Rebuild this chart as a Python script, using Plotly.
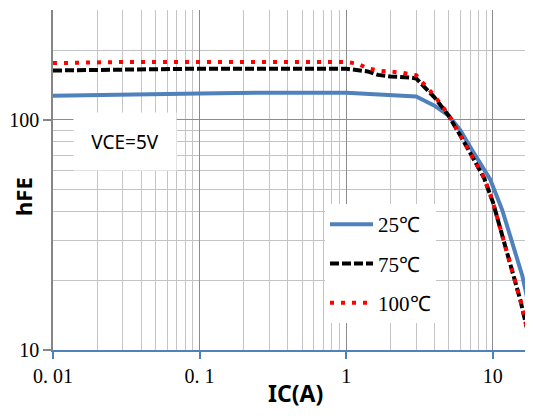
import plotly.graph_objects as go
import math

# ---- data ----
ic_25 = [0.01, 0.03, 0.1, 0.3, 1, 3, 4, 5, 6, 7.2, 9.6, 11.6, 13.6, 15.9, 20]
hfe_25 = [127, 129, 130, 131, 131, 126, 115, 104, 90, 74, 55, 40.5, 29, 21, 10.8]

ic_75 = [0.01, 0.03, 0.1, 1, 1.15, 1.4, 1.65, 2, 2.7, 3, 4, 5, 6.3, 7.3, 8.7, 10, 11.3, 13.2, 15.4, 18.5]
hfe_75 = [163.5, 165.5, 166.5, 166.5, 165, 162, 156.5, 154, 152.5, 151, 125, 104, 81, 69, 56, 44, 33, 23.7, 16.5, 10]

ic_100 = [0.01, 0.03, 0.1, 1, 1.2, 1.4, 1.7, 2, 2.4, 2.8, 3, 4, 5, 6.3, 7.3, 8.7, 10, 11.3, 13.2, 15.4, 18.5]
hfe_100 = [176, 178, 178, 178, 175, 167, 163, 162, 160, 157, 156, 127, 105, 81, 69, 56, 44, 33, 23.7, 16.5, 10]

series_names = ["25℃", "75℃", "100℃"]

x_major = [0.01, 0.1, 1, 10]
x_major_text = ["0. 01", "0. 1", "1", "10"]
x_minor = [m * d for d in [0.01, 0.1, 1, 10] for m in range(2, 10) if m * d < 22]
y_major = [10, 100]
y_major_text = ["10", "100"]
y_minor = [20, 30, 40, 50, 60, 70, 80, 90, 200, 300]

BLUE = "#4F81BD"
GRID_MINOR = "#c4c4c4"
GRID_MAJOR = "#8c8c8c"
SERIF = "Liberation Serif"
SANS = "Noto Sans"

# page body has an 8px margin: lay the figure out in screen pixels minus that offset,
# and keep the page from overflowing the 533x416 window
OFF = 8
W, H = 533 - 2 * OFF, 416 - 2 * OFF
L = 53 - OFF          # plot left (screen x 53)
T = 10 - OFF          # plot top (screen y 10)
BOT = 350 - OFF       # plot bottom (screen y 350)
B = H - BOT
pw, ph = W - L, BOT - T
DEC = 146.6           # pixels per decade on x (from the reference)


def px(sx):
    return (sx - OFF - L) / pw


def py(sy):
    return (BOT - (sy - OFF)) / ph


fig = go.Figure()
fig.add_trace(go.Scatter(x=ic_25, y=hfe_25, mode="lines", name=series_names[0],
                         line=dict(color=BLUE, width=4), legendgroup="a"))
fig.add_trace(go.Scatter(x=ic_75, y=hfe_75, mode="lines", name=series_names[1],
                         line=dict(color="black", width=4, dash="9px,3px"), legendgroup="b"))
fig.add_trace(go.Scatter(x=ic_100, y=hfe_100, mode="lines", name=series_names[2],
                         line=dict(color="#ff0000", width=4, dash="4px,7px"), legendgroup="c"))

fig.update_layout(
    width=W, height=H,
    margin=dict(l=L, r=0, t=T, b=B, pad=0, autoexpand=False),
    paper_bgcolor="white", plot_bgcolor="white",
    showlegend=True,
    legend=dict(x=px(325), y=py(204), xanchor="left", yanchor="top",
                bgcolor="white", borderwidth=0, font=dict(family=SERIF, size=21, color="black"),
                tracegroupgap=9, traceorder="grouped", itemwidth=43),
    xaxis=dict(type="log", range=[-2, -2 + pw / DEC],
               tickmode="array", tickvals=x_major, ticktext=x_major_text,
               tickfont=dict(family=SERIF, size=20, color="black"),
               ticks="outside", ticklen=7, tickcolor=BLUE, tickwidth=1.5,
               showline=True, linecolor=BLUE, linewidth=1.5,
               showgrid=True, gridcolor=GRID_MAJOR, gridwidth=1.3,
               minor=dict(tickvals=x_minor, showgrid=True, gridcolor=GRID_MINOR, gridwidth=1.3, ticks=""),
               zeroline=False, automargin=False),
    yaxis=dict(type="log", range=[1, math.log10(300) - 0.001],
               tickmode="array", tickvals=y_major, ticktext=y_major_text,
               tickfont=dict(family=SERIF, size=20, color="black"),
               ticks="outside", ticklen=8, tickcolor="#868686", tickwidth=1.5,
               showline=True, linecolor="#868686", linewidth=1.5,
               showgrid=True, gridcolor=GRID_MAJOR, gridwidth=1.3,
               minor=dict(tickvals=y_minor, showgrid=True, gridcolor=GRID_MINOR, gridwidth=1.3, ticks=""),
               zeroline=False, automargin=False),
    shapes=[
        # white legend panel (covers the grid, sits under the curves)
        dict(type="rect", xref="paper", yref="paper", layer="between",
             x0=px(303), x1=px(468), y0=py(330), y1=py(200),
             fillcolor="white", line=dict(width=0)),
    ],
    annotations=[
        dict(text="VCE=5V", xref="paper", yref="paper",
             x=px(125), y=py(142), xanchor="center", yanchor="middle",
             showarrow=False, bgcolor="white", width=100, height=55,
             font=dict(family=SANS, size=19, color="black")),
        dict(text="<b>hFE</b>", xref="paper", yref="paper", textangle=-90,
             x=px(23), y=py(197), xanchor="center", yanchor="middle", borderpad=0,
             showarrow=False, font=dict(family=SANS, size=22, color="black")),
        dict(text="<b>IC(A)</b>", xref="paper", yref="paper",
             x=px(295), y=py(393), xanchor="center", yanchor="middle", borderpad=0,
             showarrow=False, font=dict(family=SANS, size=23, color="black")),
    ],
)

fig.write_html("out.html")
